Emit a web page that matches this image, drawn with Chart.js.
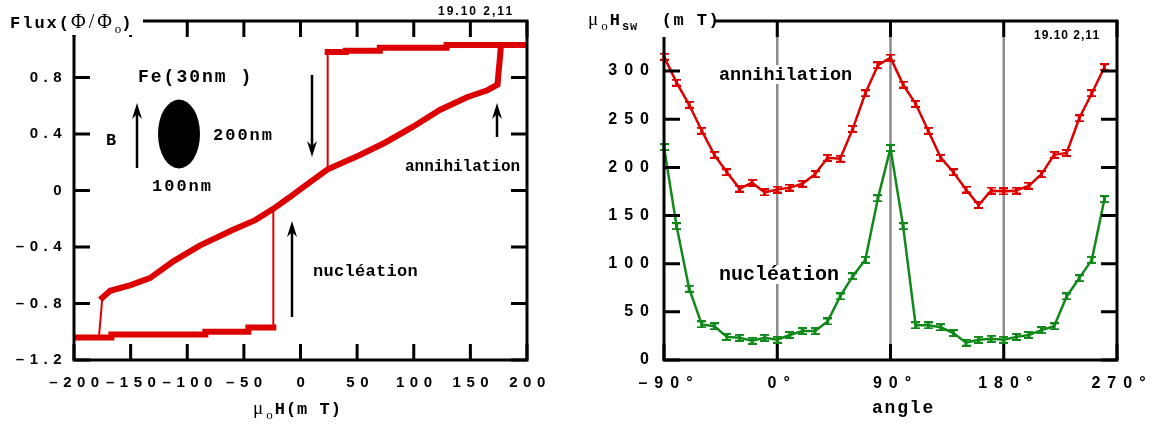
<!DOCTYPE html>
<html>
<head>
<meta charset="utf-8">
<script src="https://cdn.jsdelivr.net/npm/chart.js@4"></script>
<style>
  html, body { margin: 0; padding: 0; background: #fff; }
  #left { position: absolute; left: 0; top: 0; }
  #right { position: absolute; left: 570px; top: 0; }
</style>
</head>
<body>
<canvas id="left" width="570" height="425"></canvas>
<canvas id="right" width="585" height="425"></canvas>
<script>
// ---- left panel: hysteresis loop of the Fe disc ----
const fieldTicks = [-200, -150, -100, -50, 0, 50, 100, 150, 200];
const fluxTicks = [-1.2, -0.8, -0.4, 0, 0.4, 0.8];

// vortex branch, with the two annihilation jumps at its ends
const vortexH = [-178, -175, -168, -150, -133, -112, -89, -60, -40, -24, -10, 0, 24, 52, 75, 99, 123, 147, 165, 174, 175, 176, 177];
const vortexFlux = [-1.04, -0.76, -0.71, -0.67, -0.62, -0.50, -0.39, -0.28, -0.21, -0.13, -0.05, 0.01, 0.15, 0.25, 0.34, 0.45, 0.57, 0.66, 0.71, 0.75, 0.85, 0.93, 1.03];
// saturated states and nucleation jumps
const upperH = [200, 129, 129, 70, 70, 40, 40, 24, 24];
const upperFlux = [1.03, 1.03, 1.01, 1.01, 0.99, 0.99, 0.98, 0.98, 0.15];
const lowerH = [-200, -167, -167, -84, -84, -46, -46, -24, -24];
const lowerFlux = [-1.04, -1.04, -1.02, -1.02, -1.00, -1.00, -0.97, -0.97, -0.13];

// ---- right panel: switching fields vs angle ----
const angleTicks = [-90, 0, 90, 180, 270];
const hswTicks = [0, 50, 100, 150, 200, 250, 300];
const angles = [-90, -80, -70, -60, -50, -40, -30, -20, -10, 0, 10, 20, 30, 40, 50, 60, 70, 80, 90,
                100, 110, 120, 130, 140, 150, 160, 170, 180, 190, 200, 210, 220, 230, 240, 250, 260];
const annihilation = [315, 288, 265, 238, 213, 195, 178, 184, 174, 177, 179, 183, 193, 210, 209, 240, 277, 306, 314,
                      286, 266, 238, 210, 195, 177, 161, 176, 175, 176, 181, 193, 213, 215, 251, 277, 304];
const nucleation = [221, 139, 74, 37, 35, 24, 23, 20, 23, 21, 26, 30, 30, 40, 66, 87, 104, 168, 220,
                    139, 36, 36, 34, 28, 18, 21, 22, 21, 24, 26, 31, 35, 66, 85, 104, 167];

const MONO = '"Liberation Mono", "DejaVu Sans Mono", monospace';
const SANS = '"Liberation Sans", Arial, sans-serif';
const SERIF = '"Liberation Serif", "DejaVu Serif", serif';
const RED = '#dd0000';
const GREEN = '#10891a';

const mono = s => 'bold ' + s + 'px ' + MONO;
const serif = s => s + 'px ' + SERIF;
const sans = s => 'bold ' + s + 'px ' + SANS;
const pts = (xs, ys) => xs.map((x, i) => ({ x: x, y: ys[i] }));
const dash = s => String(s).replace('-', '\u2013');

// parts: [text, font, dy, letterSpacing]
function drawText(ctx, parts, x, y, bg) {
    ctx.save();
    ctx.textAlign = 'left';
    ctx.textBaseline = 'alphabetic';
    let w = 0;
    parts.forEach(p => {
        ctx.font = p[1];
        ctx.letterSpacing = (p[3] || 0) + 'px';
        w += ctx.measureText(p[0]).width;
    });
    if (bg) {
        ctx.fillStyle = '#fff';
        ctx.fillRect(x - 2, y - 15, w + 4, 19);
    }
    ctx.fillStyle = '#000';
    parts.forEach(p => {
        ctx.font = p[1];
        ctx.letterSpacing = (p[3] || 0) + 'px';
        ctx.fillText(p[0], x, y + (p[2] || 0));
        x += ctx.measureText(p[0]).width;
    });
    ctx.restore();
}

function arrow(ctx, x, y0, y1) {
    const dir = y1 < y0 ? -1 : 1;
    ctx.save();
    ctx.strokeStyle = '#000';
    ctx.fillStyle = '#000';
    ctx.lineWidth = 2.5;
    ctx.beginPath();
    ctx.moveTo(x, y0);
    ctx.lineTo(x, y1 - dir * 8);
    ctx.stroke();
    ctx.beginPath();
    ctx.moveTo(x, y1);
    ctx.lineTo(x - 5, y1 - dir * 16);
    ctx.lineTo(x, y1 - dir * 11);
    ctx.lineTo(x + 5, y1 - dir * 16);
    ctx.closePath();
    ctx.fill();
    ctx.restore();
}

// small I-shaped marker standing for the error bar of each point
function errorMark(color) {
    const c = document.createElement('canvas');
    c.width = 9;
    c.height = 8;
    const g = c.getContext('2d');
    g.fillStyle = color;
    g.fillRect(0, 0, 9, 2);
    g.fillRect(0, 6, 9, 2);
    g.fillRect(3, 0, 3, 8);
    return c;
}

// box with inward ticks, grey guides, and the hand-placed labels
function framePlugin(set) {
    return {
        id: 'frame',
        beforeDraw(chart) {
            chart.ctx.letterSpacing = set.spacing + 'px';
        },
        beforeDatasetsDraw(chart) {
            const ctx = chart.ctx, a = chart.chartArea, xs = chart.scales.x;
            ctx.save();
            ctx.letterSpacing = '0px';
            ctx.strokeStyle = '#8c8c8c';
            ctx.lineWidth = 2.5;
            (set.guides || []).forEach(v => {
                const px = xs.getPixelForValue(v);
                ctx.beginPath();
                ctx.moveTo(px, a.top);
                ctx.lineTo(px, a.bottom);
                ctx.stroke();
            });
            ctx.restore();
        },
        afterDatasetsDraw(chart) {
            const ctx = chart.ctx, a = chart.chartArea, xs = chart.scales.x, ys = chart.scales.y;
            ctx.save();
            ctx.strokeStyle = '#000';
            ctx.lineWidth = 3;
            ctx.strokeRect(a.left, a.top, a.right - a.left, a.bottom - a.top);
            ctx.beginPath();
            set.xTicks.forEach(v => {
                const px = xs.getPixelForValue(v);
                ctx.moveTo(px, a.bottom); ctx.lineTo(px, a.bottom - 16);
                ctx.moveTo(px, a.top); ctx.lineTo(px, a.top + 16);
            });
            set.yTicks.forEach(v => {
                const py = ys.getPixelForValue(v);
                ctx.moveTo(a.left, py); ctx.lineTo(a.left + 16, py);
                ctx.moveTo(a.right, py); ctx.lineTo(a.right - 16, py);
            });
            ctx.stroke();
            ctx.restore();
            set.decorate(ctx);
        },
        afterDraw(chart) {
            chart.ctx.letterSpacing = '0px';
        }
    };
}

function axis(min, max, ticks, size, padding, offset, fit, fmt) {
    return {
        type: 'linear', min: min, max: max,
        afterFit: fit,
        afterBuildTicks: s => { s.ticks = ticks.map(v => ({ value: v })); },
        grid: { display: false, drawTicks: false },
        border: { display: false },
        ticks: {
            font: { family: SANS, size: size, weight: 'bold' },
            color: '#000', padding: padding, labelOffset: offset,
            maxRotation: 0, autoSkip: false,
            callback: fmt
        }
    };
}

const loopWidth = c => (Math.abs(c.p1.parsed.y - c.p0.parsed.y) > 0.1 &&
                        Math.abs(c.p1.parsed.x - c.p0.parsed.x) < 4) ? 2 : 6;

new Chart(document.getElementById('left'), {
    type: 'scatter',
    data: {
        datasets: [pts(upperH, upperFlux), pts(lowerH, lowerFlux), pts(vortexH, vortexFlux)].map(d => ({
            data: d, showLine: true, borderColor: RED, backgroundColor: RED,
            pointRadius: 0, borderCapStyle: 'square', borderJoinStyle: 'miter',
            segment: { borderWidth: loopWidth }
        }))
    },
    options: {
        responsive: false, animation: false, devicePixelRatio: 1,
        layout: { padding: { left: 0, top: 21, right: 43, bottom: 0 } },
        plugins: { legend: { display: false }, tooltip: { enabled: false } },
        scales: {
            x: axis(-200, 200, fieldTicks, 15, 14, 3, s => { s.height = 65; }, v => dash(v)),
            y: axis(-1.2, 1.2, fluxTicks, 15, 7, 0, s => { s.width = 74; },
                    v => v === 0 ? '0' : dash(v.toFixed(1)))
        }
    },
    plugins: [framePlugin({
        spacing: 5.5, xTicks: fieldTicks, yTicks: fluxTicks,
        decorate(ctx) {
            ctx.save();
            ctx.fillStyle = '#fff';
            ctx.fillRect(0, 0, 143, 35);
            ctx.restore();
            drawText(ctx, [['Flux(', mono(17), 0, 2], ['\u03A6/\u03A6', serif(20), 0, 3], ['o', serif(13), 5, 0], [')', mono(17), 0, 0]], 10, 28);
            drawText(ctx, [['19.10 2,11', sans(12), 0, 2]], 438, 15);
            drawText(ctx, [['\u03BC', serif(19), 0, 3], ['o', serif(13), 5, 2], ['H(m T)', mono(17), 0, 1]], 253, 414);

            drawText(ctx, [['Fe(30nm )', mono(18), 0, 2]], 138, 82);
            drawText(ctx, [['B', mono(17), 0, 0]], 106, 145);
            drawText(ctx, [['200nm', mono(17), 0, 2]], 213, 140);
            drawText(ctx, [['100nm', mono(17), 0, 2]], 152, 191);
            drawText(ctx, [['annihilation', mono(16), 0, 0]], 405, 171);
            drawText(ctx, [['nucl\u00E9ation', mono(17), 0, 0.3]], 313, 276);

            ctx.save();
            ctx.fillStyle = '#000';
            ctx.beginPath();
            ctx.ellipse(179, 134, 21, 34.5, 0, 0, Math.PI * 2);
            ctx.fill();
            ctx.restore();

            arrow(ctx, 137, 168, 103);
            arrow(ctx, 312, 75, 157);
            arrow(ctx, 497, 137, 103);
            arrow(ctx, 292, 317, 221);
        }
    })]
});

new Chart(document.getElementById('right'), {
    type: 'scatter',
    data: {
        datasets: [
            { data: pts(angles, annihilation), borderColor: RED, backgroundColor: RED, pointStyle: errorMark(RED) },
            { data: pts(angles, nucleation), borderColor: GREEN, backgroundColor: GREEN, pointStyle: errorMark(GREEN) }
        ].map(d => Object.assign(d, { showLine: true, borderWidth: 2.5, pointRadius: 4, clip: false }))
    },
    options: {
        responsive: false, animation: false, devicePixelRatio: 1,
        layout: { padding: { left: 0, top: 21, right: 38, bottom: 0 } },
        plugins: { legend: { display: false }, tooltip: { enabled: false } },
        scales: {
            x: axis(-90, 270, angleTicks, 16, 14, 5, s => { s.height = 65; }, v => dash(v) + '\u00B0'),
            y: axis(0, 352, hswTicks, 16, 8, 0, s => { s.width = 94; }, v => String(v))
        }
    },
    plugins: [framePlugin({
        spacing: 7, xTicks: angleTicks, yTicks: hswTicks, guides: [0, 90, 180],
        decorate(ctx) {
            ctx.save();
            ctx.fillStyle = '#fff';
            ctx.fillRect(0, 0, 145, 37);
            ctx.restore();
            drawText(ctx, [['\u03BC', serif(19), 0, 3], ['o', serif(13), 5, 2], ['H', mono(17), 0, 2],
                           ['sw', mono(12), 5, 1], ['  (m T)', mono(17), 0, 1.5]], 18, 25);
            drawText(ctx, [['19.10 2,11', sans(12), 0, 1]], 464, 39);
            drawText(ctx, [['annihilation', mono(18.5), 0, 0]], 149, 80, true);
            drawText(ctx, [['nucl\u00E9ation', mono(20), 0, 0]], 149, 280, true);
            drawText(ctx, [['angle', mono(18), 0, 1.8]], 302, 413);
        }
    })]
});
</script>
</body>
</html>
